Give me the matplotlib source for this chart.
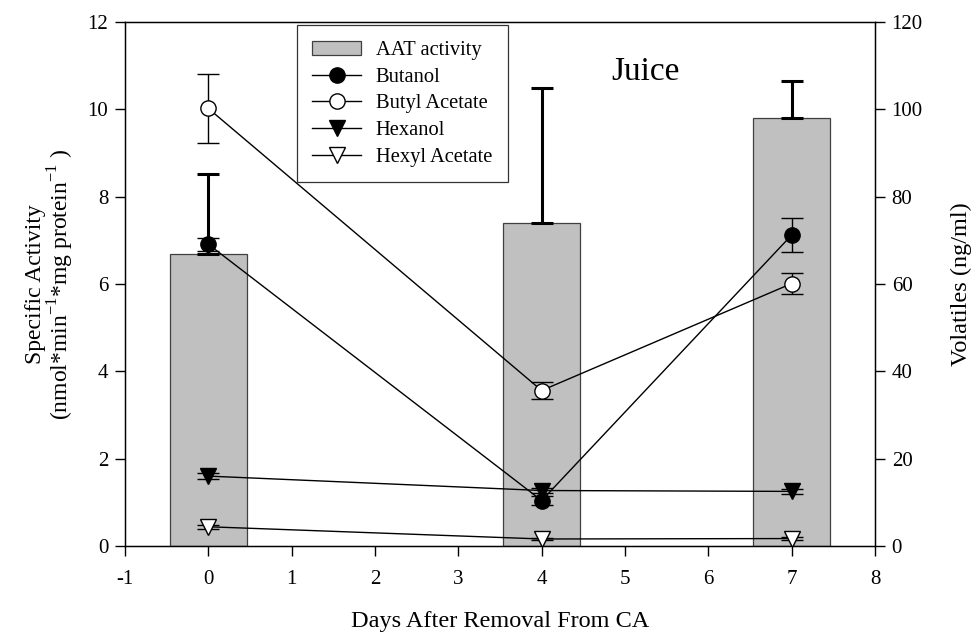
import matplotlib
matplotlib.use("Agg")
import matplotlib.pyplot as plt
from matplotlib.patches import Patch
from matplotlib.lines import Line2D

plt.rcParams["font.family"] = ["Liberation Serif", "DejaVu Serif"]
plt.rcParams["mathtext.fontset"] = "custom"
plt.rcParams["mathtext.rm"] = "Liberation Serif"
plt.rcParams["axes.unicode_minus"] = False

# Days after removal from CA
days = [0, 4, 7]

# AAT specific activity (left axis) with upper error
aat = [6.69, 7.39, 9.79]
aat_err = [1.83, 3.10, 0.85]

# Volatiles in ng/ml (right axis)
butanol = [69.1, 10.4, 71.2]
butanol_err = [1.5, 1.0, 3.9]
butyl_acetate = [100.2, 35.6, 60.1]
butyl_acetate_err = [7.9, 1.9, 2.4]
hexanol = [16.0, 12.7, 12.5]
hexanol_err = [0.6, 0.6, 0.6]
hexyl_acetate = [4.4, 1.6, 1.7]
hexyl_acetate_err = [0.4, 0.3, 0.3]

fig = plt.figure(figsize=(9.72, 6.35), dpi=100)
ax = fig.add_axes([0.1286, 0.1402, 0.7716, 0.8252])

ax.bar(days, aat, width=0.92, color="#c0c0c0", edgecolor="#404040", linewidth=0.9, zorder=2)
ax.errorbar(days, aat, yerr=[[0, 0, 0], aat_err], fmt="none", ecolor="black",
            elinewidth=2.2, capsize=8, capthick=2.2, zorder=3)

ax.set_xlim(-1, 8)
ax.set_ylim(0, 12)
ax.set_xticks(range(-1, 9))
ax.set_yticks(range(0, 13, 2))
ax.tick_params(axis="both", direction="out", length=7, width=1.0, labelsize=15, pad=5)
ax.tick_params(axis="x", pad=10)
for s in ax.spines.values():
    s.set_linewidth(1.0)
ax.set_xlabel("Days After Removal From CA", fontsize=17.5, labelpad=16)
ax.set_ylabel("Specific Activity\n(nmol*min$^{\\mathregular{-1}}$*mg protein$^{\\mathregular{-1}}$ )",
              fontsize=17, labelpad=8, linespacing=1.0)

ax2 = ax.twinx()
ax2.set_ylim(0, 120)
ax2.set_yticks(range(0, 121, 20))
ax2.tick_params(axis="y", direction="out", length=7, width=1.0, labelsize=15, pad=5)
ax2.set_ylabel("Volatiles (ng/ml)", fontsize=17.5, labelpad=20)

series = [
    ("Butanol", butanol, butanol_err, "o", "black"),
    ("Butyl Acetate", butyl_acetate, butyl_acetate_err, "o", "white"),
    ("Hexanol", hexanol, hexanol_err, "v", "black"),
    ("Hexyl Acetate", hexyl_acetate, hexyl_acetate_err, "v", "white"),
]
handles = [Patch(facecolor="#c0c0c0", edgecolor="#404040", linewidth=0.9, label="AAT activity")]
for name, vals, err, mk, fc in series:
    ax2.errorbar(days, vals, yerr=err, fmt="none", ecolor="black", elinewidth=1.0,
                 capsize=8, capthick=1.0, zorder=3)
    ax2.plot(days, vals, color="black", linewidth=1.0, marker=mk, markersize=11,
             markerfacecolor=fc, markeredgecolor="black", markeredgewidth=1.0, zorder=4)
    handles.append(Line2D([], [], color="black", linewidth=1.0, marker=mk, markersize=11,
                          markerfacecolor=fc, markeredgecolor="black", label=name))

leg = ax2.legend(handles=handles, loc="upper left", bbox_to_anchor=(0.229, 0.994),
                 borderaxespad=0, fontsize=14.8, frameon=True, fancybox=False,
                 edgecolor="black", handlelength=2.4, labelspacing=0.36, borderpad=0.75,
                 handletextpad=0.7)
leg.get_frame().set_linewidth(0.9)

ax2.text(5.25, 108.5, "Juice", fontsize=24, ha="center", va="center")

fig.savefig("out.png", dpi=100)
